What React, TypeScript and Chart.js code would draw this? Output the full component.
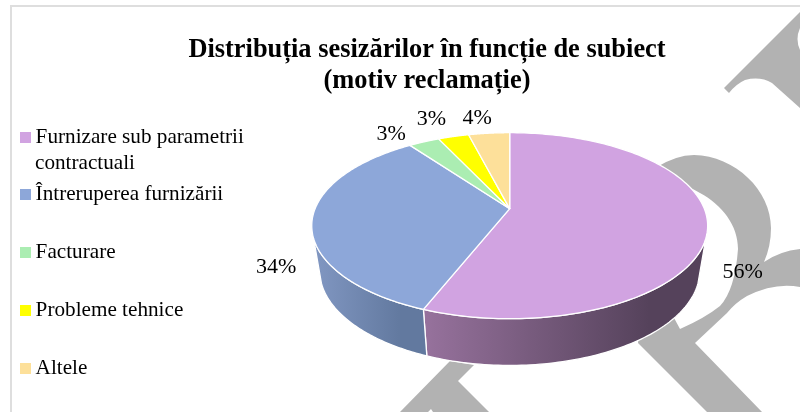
import React, { useEffect, useRef } from "react";
import { Chart, registerables } from "chart.js";

Chart.register(...registerables);

const titleLines = ["Distribuția sesizărilor în funcție de subiect", "(motiv reclamație)"];
const categories = [
  "Furnizare sub parametrii contractuali",
  "Întreruperea furnizării",
  "Facturare",
  "Probleme tehnice",
  "Altele",
];
const legendFirstLines = ["Furnizare sub parametrii", "Întreruperea furnizării", "Facturare", "Probleme tehnice", "Altele"];
const legendSecondLine = "contractuali";
const shares = [56, 34, 3, 3, 4];
const sliceColors = ["#d1a3e1", "#8da7d9", "#abedb2", "#ffff00", "#fde09a"];
const legendColors = ["#d1a3e1", "#8da7d9", "#abedb2", "#ffff00", "#fde09a"];
const wallShades = [
  ["#97729d", "#55425b"],
  ["#8197c2", "#62799f"],
  ["#8bb98f", "#6f9473"],
  ["#c0c000", "#909000"],
  ["#c4ae78", "#96855c"],
];
const labelNudges = [
  [35, 46],
  [-36, 47],
  [-33, -8],
  [-22, -17],
  [-12, -15],
];

const SERIF = '"Liberation Serif", serif';
const GREY = "#b2b2b2";
const LEGEND_SIZE = 21.2;
const LEGEND_GAP = 36.55;
const MARK_PATHS = [
  "M724,88 L800,12 L800,28 Q795,39 800,50 L800,108 L772,83 Q760,76 745,80 Q736,84 729,93 Z",
  "M655,168 Q676,155 694,155 C735,156 771,190 771,228 Q771,246 764,262 Q780,251 800,249 L800,287 Q775,282 747,296 Q735,303 727,313 L695,343 L762,412 L707,412 L638,343 L640,325 L673,316 L680,329 Q705,318 720,306 Q735,290 738,249 C738,225 722,205 700,193 Z",
  "M400,412 L450,361 L474,365 L458,381 L489,412 L433,412 L431,409 L428,412 Z",
];

const A = 194.6;
const B = 89.9;
const K = -0.183;
const LOWER_A = 0.96;
const LOWER_B = 1.02;
const DEPTH = 44.5;
const WALL_FROM = (18 * Math.PI) / 180;
const WALL_TO = (162 * Math.PI) / 180;
const SHIFT_Y = -51;
const SHIFT_X = 0;

function project(cx: number, cy: number, t: number, lower = false) {
  const ux = Math.cos(t);
  const uy = Math.sin(t);
  const d = 1 + K * uy;
  return {
    x: cx + ((lower ? LOWER_A : 1) * A * ux) / d,
    y: cy + (lower ? DEPTH : 0) + ((lower ? LOWER_B : 1) * B * uy) / d,
  };
}

function swatch(color: string) {
  const c = document.createElement("canvas");
  c.width = 11;
  c.height = 11;
  const g = c.getContext("2d")!;
  g.fillStyle = color;
  g.fillRect(0, 0, 11, 11);
  return c;
}

const pie3d = {
  id: "pie3d",
  beforeDraw(chart: any) {
    const ctx = chart.ctx;
    ctx.save();
    ctx.fillStyle = "#ffffff";
    ctx.fillRect(0, 0, chart.width, chart.height);
    ctx.fillStyle = "#dedede";
    ctx.fillRect(10, 5, 2, chart.height - 5);
    ctx.fillRect(10, 5, chart.width - 10, 2);
    ctx.fillStyle = GREY;
    MARK_PATHS.forEach((p) => ctx.fill(new Path2D(p)));
    ctx.restore();
  },
  afterLayout(chart: any) {
    chart.titleBlock.left += 50;
    chart.titleBlock.right += 50;
    const legend = chart.legend;
    const h = legend.bottom - legend.top;
    legend.left = 25 - legend.options.labels.padding;
    legend.top = 137 - LEGEND_SIZE / 2 - legend.options.labels.padding;
    legend.bottom = legend.top + Math.max(h, 320);
  },
  beforeDatasetDraw(chart: any) {
    const ctx = chart.ctx;
    const arcs = chart.getDatasetMeta(0).data;
    ctx.save();
    ctx.lineJoin = "round";
    ctx.strokeStyle = "#ffffff";
    ctx.lineWidth = 1.3;
    arcs.forEach((arc: any, i: number) => {
      const from = Math.max(arc.startAngle, WALL_FROM);
      const to = Math.min(arc.endAngle, WALL_TO);
      if (to <= from) return;
      const cx = arc.x + SHIFT_X;
      const cy = arc.y + SHIFT_Y;
      const steps = 80;
      ctx.beginPath();
      for (let s = 0; s <= steps; s++) {
        const p = project(cx, cy, from + ((to - from) * s) / steps);
        s ? ctx.lineTo(p.x, p.y) : ctx.moveTo(p.x, p.y);
      }
      for (let s = steps; s >= 0; s--) {
        const p = project(cx, cy, from + ((to - from) * s) / steps, true);
        ctx.lineTo(p.x, p.y);
      }
      ctx.closePath();
      const xa = project(cx, cy, to).x;
      const xb = project(cx, cy, from).x;
      const grad = ctx.createLinearGradient(xa, 0, xa + (xb - xa) * 0.8, 0);
      grad.addColorStop(0, wallShades[i][0]);
      grad.addColorStop(1, wallShades[i][1]);
      ctx.fillStyle = grad;
      ctx.fill();
      ctx.stroke();
    });
    arcs.forEach((arc: any, i: number) => {
      const cx = arc.x + SHIFT_X;
      const cy = arc.y + SHIFT_Y;
      const steps = 160;
      ctx.beginPath();
      ctx.moveTo(cx, cy);
      for (let s = 0; s <= steps; s++) {
        const p = project(cx, cy, arc.startAngle + ((arc.endAngle - arc.startAngle) * s) / steps);
        ctx.lineTo(p.x, p.y);
      }
      ctx.closePath();
      ctx.fillStyle = sliceColors[i];
      ctx.fill();
      ctx.stroke();
    });
    ctx.restore();
    return false;
  },
  afterDraw(chart: any) {
    const ctx = chart.ctx;
    const arcs = chart.getDatasetMeta(0).data;
    ctx.save();
    ctx.fillStyle = "#000000";
    ctx.textAlign = "center";
    ctx.textBaseline = "middle";
    ctx.font = `22px ${SERIF}`;
    arcs.forEach((arc: any, i: number) => {
      const mid = (arc.startAngle + arc.endAngle) / 2;
      const p = project(arc.x + SHIFT_X, arc.y + SHIFT_Y, mid);
      ctx.fillText(`${shares[i]}%`, p.x + labelNudges[i][0], p.y + labelNudges[i][1]);
    });
    ctx.textAlign = "left";
    ctx.font = `${LEGEND_SIZE}px ${SERIF}`;
    ctx.fillText(legendSecondLine, 35, 163);
    ctx.restore();
  },
};

export default function App() {
  const ref = useRef<HTMLCanvasElement>(null);
  useEffect(() => {
    const chart = new Chart(ref.current!, {
      type: "pie",
      data: {
        labels: categories,
        datasets: [{ data: shares, backgroundColor: sliceColors, borderColor: "#ffffff", borderWidth: 1 }],
      },
      options: {
        responsive: false,
        animation: false,
        layout: { padding: { top: 0, right: 46, bottom: 0, left: 0 } },
        plugins: {
          tooltip: { enabled: false },
          title: {
            display: true,
            text: titleLines,
            color: "#000000",
            font: { family: SERIF, size: 26.4, weight: "bold", lineHeight: 1.2 },
            padding: { top: 34, bottom: 10 },
          },
          legend: {
            display: true,
            position: "left",
            align: "start",
            labels: {
              color: "#000000",
              font: { family: SERIF, size: LEGEND_SIZE },
              padding: LEGEND_GAP,
              usePointStyle: true,
              pointStyleWidth: 0.01,
              boxHeight: 11,
              generateLabels: () =>
                legendFirstLines.map((text, i) => ({
                  text,
                  pointStyle: swatch(legendColors[i]),
                  fillStyle: legendColors[i],
                  strokeStyle: legendColors[i],
                  lineWidth: 0,
                  hidden: false,
                  index: i,
                })),
            },
          },
        },
      } as any,
      plugins: [pie3d as any],
    });
    return () => chart.destroy();
  }, []);
  return (
    <div style={{ position: "fixed", left: 0, top: 0, width: 800, height: 412, background: "#fff" }}>
      <canvas ref={ref} width={800} height={412} style={{ display: "block" }} />
    </div>
  );
}
